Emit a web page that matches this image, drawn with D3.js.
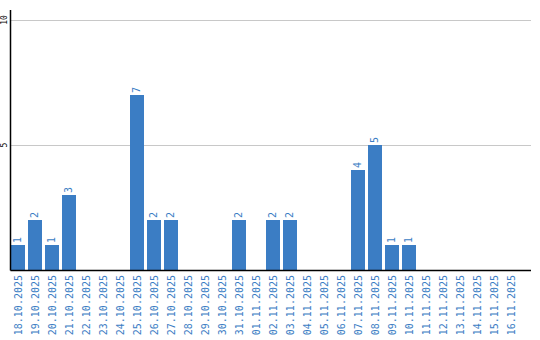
<!DOCTYPE html>
<html>
<head>
<meta charset="utf-8">
<script src="https://cdn.jsdelivr.net/npm/d3@7"></script>
<style>
  body { margin: 0; background: #fff; }
  svg { display: block; }
</style>
</head>
<body>
<div id="chart"></div>
<script>
const WIDTH = 540;
const HEIGHT = 340;
const BLUE = '#3b7dc4';

const dates = [
  '18.10.2025', '19.10.2025', '20.10.2025', '21.10.2025', '22.10.2025',
  '23.10.2025', '24.10.2025', '25.10.2025', '26.10.2025', '27.10.2025',
  '28.10.2025', '29.10.2025', '30.10.2025', '31.10.2025', '01.11.2025',
  '02.11.2025', '03.11.2025', '04.11.2025', '05.11.2025', '06.11.2025',
  '07.11.2025', '08.11.2025', '09.11.2025', '10.11.2025', '11.11.2025',
  '12.11.2025', '13.11.2025', '14.11.2025', '15.11.2025', '16.11.2025'
];
const counts = [1, 2, 1, 3, 0, 0, 0, 7, 2, 2, 0, 0, 0, 2, 0, 2, 2, 0, 0, 0, 4, 5, 1, 1, 0, 0, 0, 0, 0, 0];
const yTicks = [5, 10];

const padLeft = 10.5, padRight = 531, padTop = 10, baseY = 270;

const svg = d3.select('#chart').append('svg')
  .attr('width', WIDTH)
  .attr('height', HEIGHT);

const x = d3.scaleBand()
  .domain(dates)
  .range([11, 518])
  .paddingInner(3 / 17)
  .paddingOuter(0);

const y = d3.scaleLinear()
  .domain([0, 10])
  .range([baseY, 20]);

// gridlines
svg.append('g')
  .selectAll('line')
  .data(yTicks)
  .enter()
  .append('line')
  .attr('x1', padLeft)
  .attr('x2', padRight)
  .attr('y1', d => Math.round(y(d)) + 0.5)
  .attr('y2', d => Math.round(y(d)) + 0.5)
  .style('stroke', '#c8c8c8')
  .style('stroke-width', 1);

// y tick labels
svg.append('g')
  .selectAll('text')
  .data(yTicks)
  .enter()
  .append('text')
  .attr('transform', d => `translate(7,${y(d)}) rotate(-90)`)
  .attr('text-anchor', 'middle')
  .style('font-family', 'DejaVu Sans Mono, monospace')
  .style('font-size', '8px')
  .style('fill', '#000')
  .text(d => d);

// bars
const data = dates.map((d, i) => ({date: d, value: counts[i]}));
svg.append('g')
  .selectAll('rect')
  .data(data.filter(d => d.value > 0))
  .enter()
  .append('rect')
  .attr('x', d => x(d.date))
  .attr('y', d => y(d.value))
  .attr('width', x.bandwidth())
  .attr('height', d => y(0) - y(d.value))
  .attr('fill', BLUE);

// value labels
svg.append('g')
  .selectAll('text')
  .data(data.filter(d => d.value > 0))
  .enter()
  .append('text')
  .attr('transform', d => `translate(${x(d.date) + x.bandwidth() / 2 + 3},${y(d.value) - 2}) rotate(-90)`)
  .attr('text-anchor', 'start')
  .style('font-family', 'DejaVu Sans Mono, monospace')
  .style('font-size', '10px')
  .style('fill', BLUE)
  .text(d => d.value);

// axes lines
svg.append('line')
  .attr('x1', padLeft).attr('x2', padLeft)
  .attr('y1', padTop).attr('y2', baseY + 0.5)
  .style('stroke', '#000').style('stroke-width', 1.5);
svg.append('line')
  .attr('x1', padLeft).attr('x2', padRight)
  .attr('y1', baseY + 0.5).attr('y2', baseY + 0.5)
  .style('stroke', '#000').style('stroke-width', 1.5);

// x labels
svg.append('g')
  .selectAll('text')
  .data(dates)
  .enter()
  .append('text')
  .attr('transform', d => `translate(${x(d) + x.bandwidth() / 2 + 4},275) rotate(-90)`)
  .attr('text-anchor', 'end')
  .style('font-family', 'DejaVu Sans Mono, monospace')
  .style('font-size', '10px')
  .style('fill', BLUE)
  .text(d => d);
</script>
</body>
</html>
